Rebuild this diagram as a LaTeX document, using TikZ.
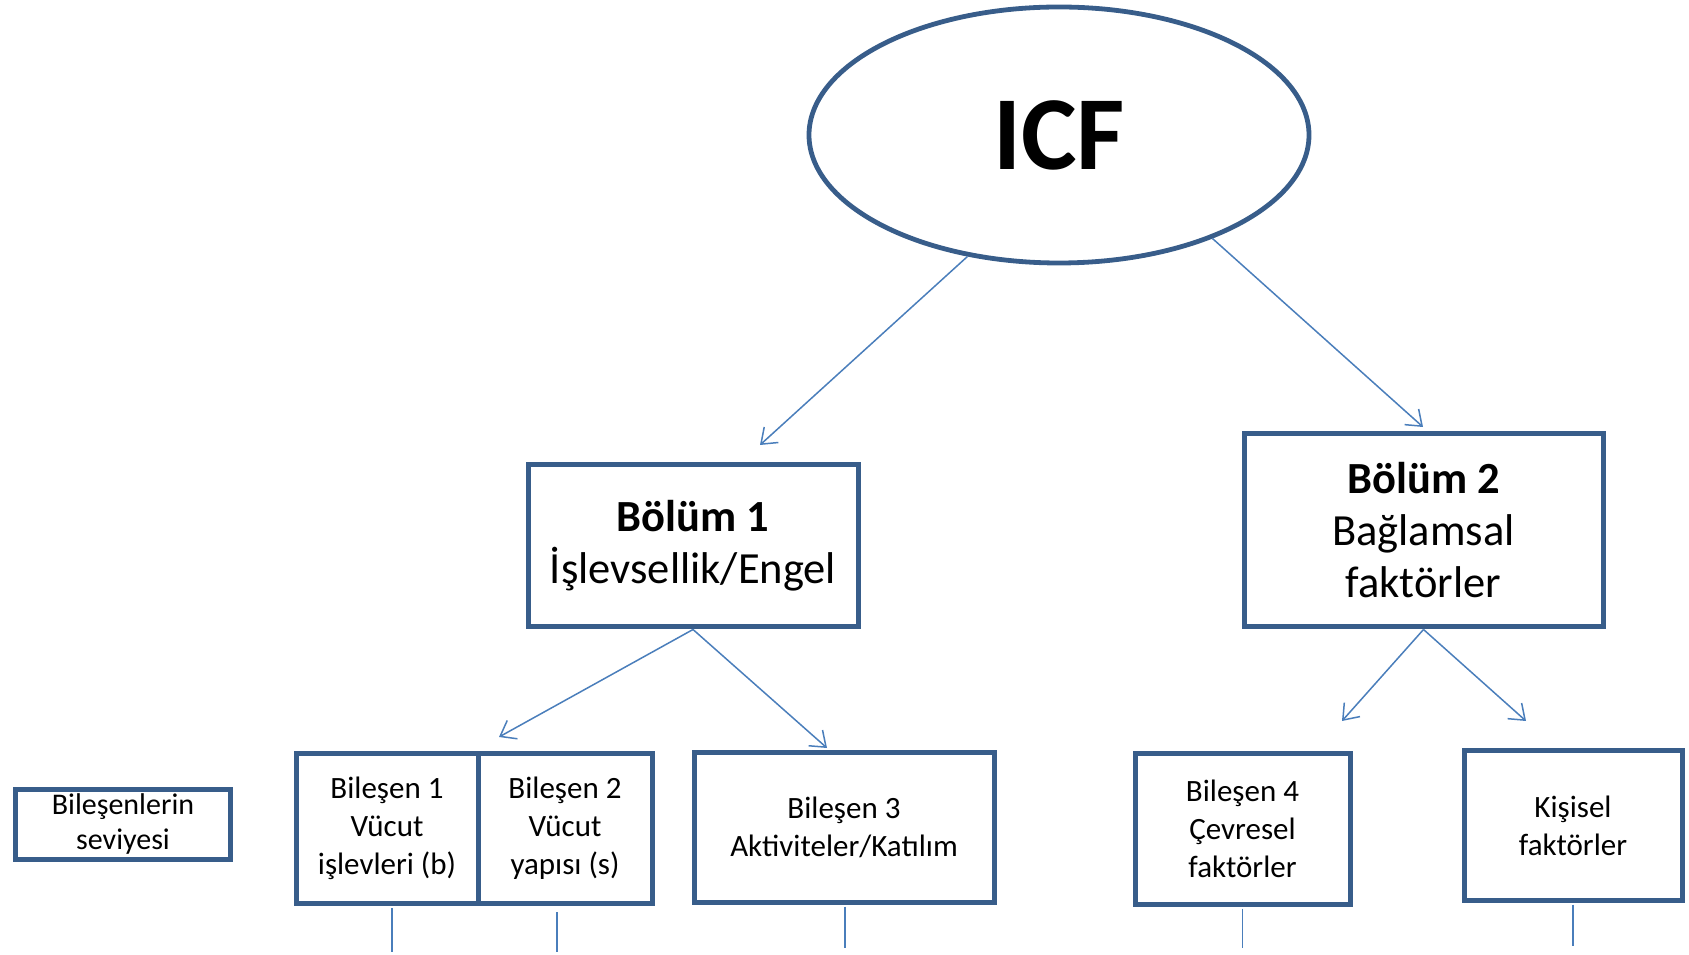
\documentclass[tikz,border=0pt]{standalone}
\usepackage{fontspec}
\setmainfont{Carlito}
\usepackage{xcolor}
\usepackage{tikz}
\usetikzlibrary{shapes.geometric, arrows.meta, positioning}

\definecolor{edgeblue}{HTML}{385D8A}
\definecolor{lineblue}{HTML}{4A7EBB}

\begin{document}
\begin{tikzpicture}[
    x=1pt, y=1pt,
    root/.style={ellipse, draw=edgeblue, line width=4.8pt, inner sep=0pt, minimum width=500pt, minimum height=256pt, font=\fontsize{105}{120}\selectfont\bfseries},
    part/.style={rectangle, draw=edgeblue, line width=5pt, inner sep=0pt, align=center, font=\fontsize{44.5}{52}\selectfont},
    component/.style={rectangle, draw=edgeblue, line width=5pt, inner sep=0pt, outer sep=0pt, align=center, font=\fontsize{31}{38}\selectfont},
    arrow/.style={->, >={Straight Barb[length=14pt, width=21pt]}, line width=1.5pt, lineblue},
    link/.style={line width=1.5pt, lineblue}
]
\useasboundingbox (0,0) rectangle (1689,954);

% Nodes
\node[root] (icf) at (1059,819) {ICF};
\node[part, minimum width=330pt, minimum height=162pt] (bolum1) at (693,408) {\textbf{Bölüm 1}\\İşlevsellik/Engel};
\node[part, minimum width=359pt, minimum height=193pt] (bolum2) at (1423.5,423.5) {\textbf{Bölüm 2}\\Bağlamsal\\faktörler};

\node[component, minimum width=215pt, minimum height=70pt, font=\fontsize{30}{35}\selectfont] (seviye) at (123,130) {Bileşenlerin\\seviyesi};
\node[component, minimum width=182pt, minimum height=150pt] (bil1) at (387,126) {Bileşen 1\\Vücut\\işlevleri (b)};
\node[component, minimum width=174pt, minimum height=150pt, right=0pt of bil1] (bil2) {Bileşen 2\\Vücut\\yapısı (s)};
\node[component, minimum width=300pt, minimum height=150pt] (bil3) at (844,126.5) {Bileşen 3\\Aktiviteler/Katılım};
\node[component, minimum width=215pt, minimum height=151pt] (bil4) at (1242.5,125) {Bileşen 4\\Çevresel\\faktörler};
\node[component, minimum width=218pt, minimum height=150pt] (kisisel) at (1573,128.5) {Kişisel\\faktörler};

% Arrow tips
\coordinate (tip1) at (760,509);
\coordinate (tip2) at (1423,527);
\coordinate (tip11) at (499,217);
\coordinate (tip12) at (827,206);
\coordinate (tip21) at (1342,233);
\coordinate (tip22) at (1526,233);

% Arrows
\draw[arrow] (icf.233) -- (tip1);
\draw[arrow] (icf.326) -- (tip2);
\draw[arrow] (bolum1.south) -- (tip11);
\draw[arrow] (bolum1.south) -- (tip12);
\draw[arrow] (bolum2.south) -- (tip21);
\draw[arrow] (bolum2.south) -- (tip22);

% Lines below the components
\draw[link] ([xshift=5pt, yshift=-5pt]bil1.south) -- ++(0,-44);
\draw[link] ([xshift=-8pt, yshift=-9pt]bil2.south) -- ++(0,-40);
\draw[link] ([xshift=1pt, yshift=-4pt]bil3.south) -- ++(0,-41);
\draw[link] ([yshift=-4pt]bil4.south) -- ++(0,-39);
\draw[link] ([yshift=-4pt]kisisel.south) -- ++(0,-41);

\end{tikzpicture}
\end{document}
